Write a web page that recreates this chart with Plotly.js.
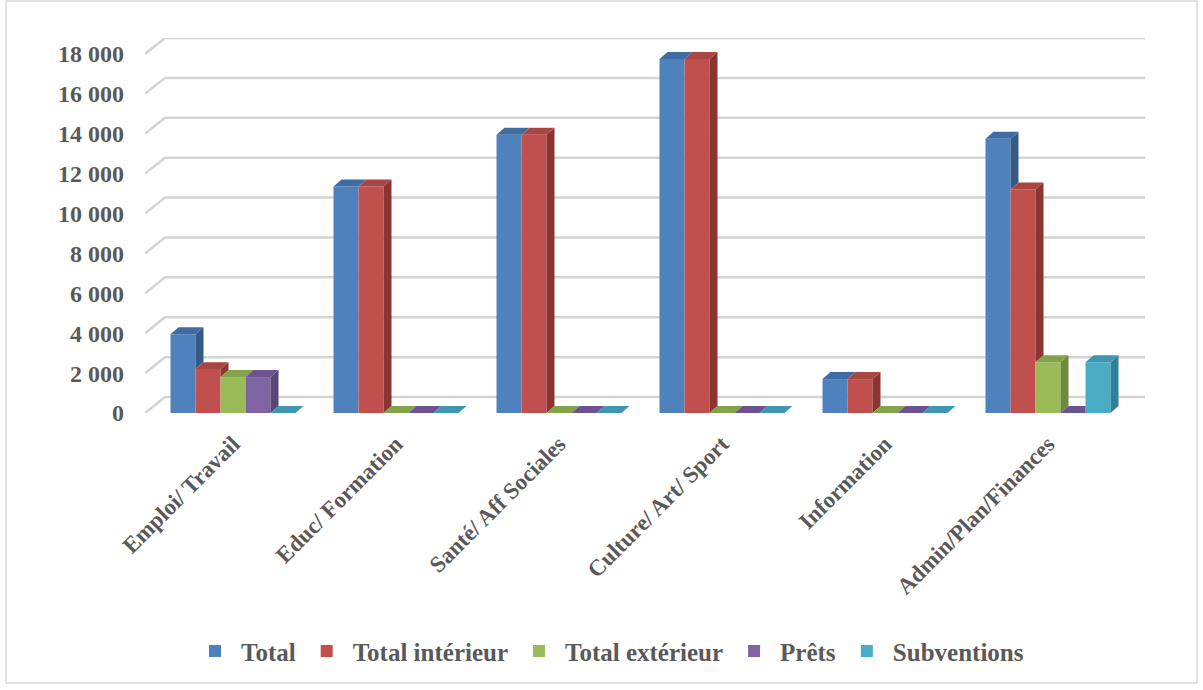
<!DOCTYPE html>
<html>
<head>
<meta charset="utf-8">
<script src="https://cdn.plot.ly/plotly-3.0.1.min.js"></script>
<style>html,body{margin:0;padding:0;background:#fff;}#chart{width:1203px;height:690px;}</style>
</head>
<body>
<div id="chart"></div>
<script>
// ---- data ----
const categories = ['Emploi/ Travail', 'Educ/ Formation', 'Santé/ Aff Sociales', 'Culture/ Art/ Sport', 'Information', 'Admin/Plan/Finances'];
const seriesNames = ['Total', 'Total intérieur', 'Total extérieur', 'Prêts', 'Subventions'];
const total        = [3950, 11350, 13950, 17750, 1700, 13750];
const totalInt     = [2200, 11350, 13950, 17750, 1700, 11200];
const totalExt     = [1800, 0, 0, 0, 0, 2550];
const prets        = [1800, 0, 0, 0, 0, 0];
const subventions  = [0, 0, 0, 0, 0, 2550];
const yTickVals = [0, 2000, 4000, 6000, 8000, 10000, 12000, 14000, 16000, 18000];
const yTickText = ['0', '2 000', '4 000', '6 000', '8 000', '10 000', '12 000', '14 000', '16 000', '18 000'];

// ---- style ----
const series = [total, totalInt, totalExt, prets, subventions];
const frontCol = ['#4F81BD', '#C0504D', '#9BBB59', '#8064A2', '#4BACC6'];
const sideCol  = ['#345A88', '#8A3532', '#6E8A3A', '#5A4577', '#31809A'];
const topCol   = ['#3F6CA3', '#A94643', '#84A24A', '#6C5390', '#3E97AF'];
const FONT = 'Liberation Serif, Times New Roman, serif';
const TXT = '#595959';
const BW = 0.1534, GROUP = 5 * BW, DX = 0.049, DY = 350;
const XR = [-0.54, 5.595];
const idx = categories.map((c, i) => i);

const traces = [];
series.forEach((vals, k) => {
  traces.push({
    type: 'bar', x: idx, y: vals, width: BW, offset: -GROUP / 2 + k * BW,
    name: seriesNames[k], marker: {color: frontCol[k], line: {width: 0}},
    hoverinfo: 'skip'
  });
});
series.forEach((vals, k) => {
  const off = -GROUP / 2 + k * BW;
  const tx = [], ty = [], sx = [], sy = [];
  vals.forEach((v, i) => {
    const x0 = i + off, x1 = x0 + BW;
    const next = k < series.length - 1 ? series[k + 1][i] : null;
    if (next !== null && next > v) {
      tx.push(x0, x1, x1, x0 + DX, null); ty.push(v, v, v + DY, v + DY, null);
    } else {
      tx.push(x0, x1, x1 + DX, x0 + DX, null); ty.push(v, v, v + DY, v + DY, null);
    }
    const lo = next !== null ? Math.max(next, 0) : 0;
    if (v > lo) {
      sx.push(x1, x1, x1 + DX, x1 + DX, null); sy.push(lo, v, v + DY, lo + DY, null);
    }
  });
  traces.push({type: 'scatter', mode: 'lines', x: sx, y: sy, fill: 'toself', fillcolor: sideCol[k],
    line: {width: 0, color: sideCol[k]}, showlegend: false, hoverinfo: 'skip'});
  traces.push({type: 'scatter', mode: 'lines', x: tx, y: ty, fill: 'toself', fillcolor: topCol[k],
    line: {width: 0, color: topCol[k]}, showlegend: false, hoverinfo: 'skip'});
});

// back-wall gridlines with slanted side-wall segment
const shapes = yTickVals.map(v => ({
  type: 'path', xref: 'x', yref: 'y', layer: 'below',
  path: `M ${XR[0]},${v} L ${XR[0] + 0.123},${v + 800} L ${XR[1]},${v + 800}`,
  line: {color: '#D4D4D4', width: 2.5}
}));
shapes.push({type: 'rect', xref: 'paper', yref: 'paper', x0: -0.139, x1: 1.052, y0: -0.72, y1: 1.099,
  line: {color: '#D9D9D9', width: 1.5}, layer: 'below'});

const layout = {
  width: 1203, height: 690,
  margin: {l: 145, r: 58, t: 38, b: 277},
  paper_bgcolor: '#FFFFFF', plot_bgcolor: 'rgba(0,0,0,0)',
  barmode: 'overlay',
  showlegend: true,
  legend: {orientation: 'h', x: 0.464, xanchor: 'center', y: -0.635, yanchor: 'middle',
    font: {family: FONT, size: 25, color: TXT, weight: 'bold'}, itemwidth: 42, traceorder: 'normal'},
  xaxis: {range: XR, tickvals: idx, ticktext: categories, tickangle: -45,
    showgrid: false, zeroline: false, showline: false, ticks: '', automargin: false,
    ticklabelstandoff: 12,
    tickfont: {family: FONT, size: 23, color: TXT, weight: 'bold'}},
  yaxis: {range: [0, 18800], tickvals: yTickVals, ticktext: yTickText,
    showgrid: false, zeroline: false, showline: false, ticks: '', automargin: false,
    ticklabelstandoff: 20,
    tickfont: {family: FONT, size: 24, color: TXT, weight: 'bold'}},
  shapes: shapes
};
Plotly.newPlot('chart', traces, layout, {displayModeBar: false, staticPlot: true});
</script>
</body>
</html>
